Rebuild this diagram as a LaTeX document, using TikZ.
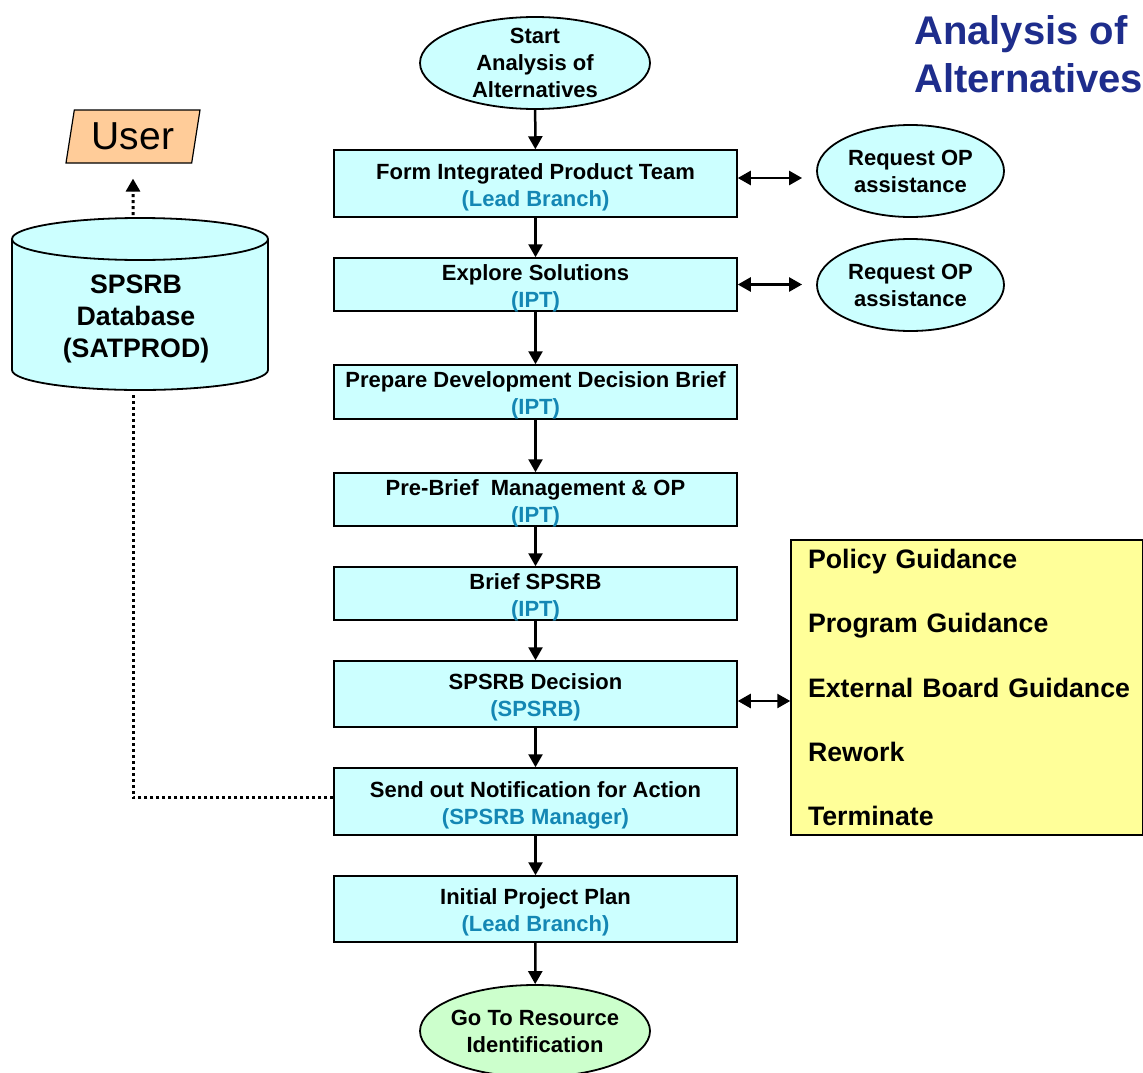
\documentclass[tikz,border=0pt]{standalone}
\usepackage{fontspec}
\setmainfont{Liberation Sans}
\usetikzlibrary{arrows.meta,shapes.geometric}
\definecolor{boxcyan}{RGB}{204,255,255}
\definecolor{endgreen}{RGB}{204,255,204}
\definecolor{noteyellow}{RGB}{255,255,153}
\definecolor{userpeach}{RGB}{255,204,153}
\definecolor{rolecol}{RGB}{20,135,180}
\definecolor{titleblue}{RGB}{30,45,140}
\newcommand{\byrole}[1]{\\{\color{rolecol}#1}}
\hyphenpenalty=10000

\begin{document}
\begin{tikzpicture}
    [
    x=1pt,y=-1pt,
    every node/.style={font=\fontsize{22}{27}\selectfont\bfseries,align=center},
    procbox/.style={draw,line width=1.5pt,fill=boxcyan,minimum width=403pt,inner ysep=0pt,
      text height=49pt,text depth=3.5pt},
    terminal/.style={ellipse,draw,line width=1.8pt,fill=boxcyan,minimum width=230pt,minimum height=92pt,inner xsep=-5pt,inner ysep=-8pt},
    flow/.style={line width=2.5pt,-{Triangle[length=13pt,width=14pt]}},
    both/.style={line width=2.5pt,{Triangle[length=13pt,width=14pt]}-{Triangle[length=13pt,width=14pt]}},
    dbline/.style={line width=3pt,dash pattern=on 3pt off 3pt},
    bigtext/.style={font=\fontsize{26.7}{32}\selectfont\bfseries},
    ]
    \useasboundingbox (0,0) rectangle (1143,1073);

    % title
    \node[font=\fontsize{40}{48}\selectfont\bfseries,text=titleblue,align=left,anchor=north west,inner sep=0pt]
      (title) at (914,15) {Analysis of\\Alternatives};

    % main flow
    \node[terminal] (start) at (535,63) {Start\\Analysis of\\Alternatives};
    \node[procbox,minimum height=67pt] (team) at (535.5,183.5) {Form Integrated Product Team\byrole{(Lead Branch)}};
    \node[procbox,minimum height=53pt] (explore) at (535.5,284.5) {Explore Solutions\byrole{(IPT)}};
    \node[procbox,minimum height=54pt] (prepare) at (535.5,392) {Prepare Development Decision Brief\byrole{(IPT)}};
    \node[procbox,minimum height=53pt] (prebrief) at (535.5,499.5) {Pre-Brief\ \ Management \& OP\byrole{(IPT)}};
    \node[procbox,minimum height=53pt] (brief) at (535.5,593.5) {Brief SPSRB\byrole{(IPT)}};
    \node[procbox,minimum height=66pt] (decision) at (535.5,694) {SPSRB Decision\byrole{(SPSRB)}};
    \node[procbox,minimum height=67pt] (notify) at (535.5,801.5) {Send out Notification for Action\byrole{(SPSRB Manager)}};
    \node[procbox,minimum height=66pt] (plan) at (535.5,909) {Initial Project Plan\byrole{(Lead Branch)}};
    \node[terminal,fill=endgreen] (goto) at (535,1031) {Go To Resource\\Identification};

    % side nodes
    \node[terminal,minimum width=187pt] (reqa) at (910.5,171) {Request OP\\assistance};
    \node[terminal,minimum width=187pt] (reqb) at (910.5,285) {Request OP\\assistance};
    \node[draw,line width=1.5pt,fill=noteyellow,minimum width=352pt,minimum height=295pt,
      text width=318pt,inner xsep=17pt,align=left,
      font=\fontsize{26.7}{64.25}\selectfont\bfseries]
      (outcome) at (967,687.5) {Policy Guidance\\Program Guidance\\\mbox{External Board Guidance}\\Rework\\Terminate};

    % database and user
    \fill[boxcyan] (12,239) -- (12,370) arc[start angle=180,end angle=360,x radius=128pt,y radius=20pt]
      -- (268,239) -- cycle;
    \draw[line width=1.8pt] (12,239) -- (12,370) arc[start angle=180,end angle=360,x radius=128pt,y radius=20pt]
      -- (268,239);
    \draw[line width=1.8pt,fill=boxcyan] (140,239) ellipse[x radius=128pt,y radius=21pt];
    \node[bigtext] (db) at (136,319) {SPSRB\\Database\\(SATPROD)};
    \coordinate (dbtop) at (133,215);
    \coordinate (dbbot) at (133,392);
    \node[trapezium,trapezium left angle=73,trapezium right angle=107,trapezium stretches body,
      draw,line width=1.2pt,fill=userpeach,minimum width=134pt,minimum height=53pt,inner sep=0pt,
      font=\fontsize{39}{39}\selectfont\mdseries] (user) at (133,136.5) {User};

    % connectors
    \draw[flow] (start) -- (team);
    \draw[flow] (team) -- (explore);
    \draw[flow] (explore) -- (prepare);
    \draw[flow] (prepare) -- (prebrief);
    \draw[flow] (prebrief) -- (brief);
    \draw[flow] (brief) -- (decision);
    \draw[flow] (decision) -- (notify);
    \draw[flow] (notify) -- (plan);
    \draw[flow] (plan) -- (goto);
    \draw[both,shorten >=14pt] ([yshift=5.5pt]team.east) -- ([yshift=5.5pt]team.east -| reqa.west);
    \draw[both,shorten >=14pt] (explore.east) -- (explore.east -| reqb.west);
    \draw[both] ([yshift=-7pt]decision.east) -- ([yshift=-7pt]decision.east -| outcome.west);
    \draw[dbline] ([yshift=4pt]notify.west) -| (dbbot);
    \draw[dbline,-{Triangle[length=13pt,width=14pt]},shorten >=15pt] (dbtop) -- (user.south);
\end{tikzpicture}
\end{document}
